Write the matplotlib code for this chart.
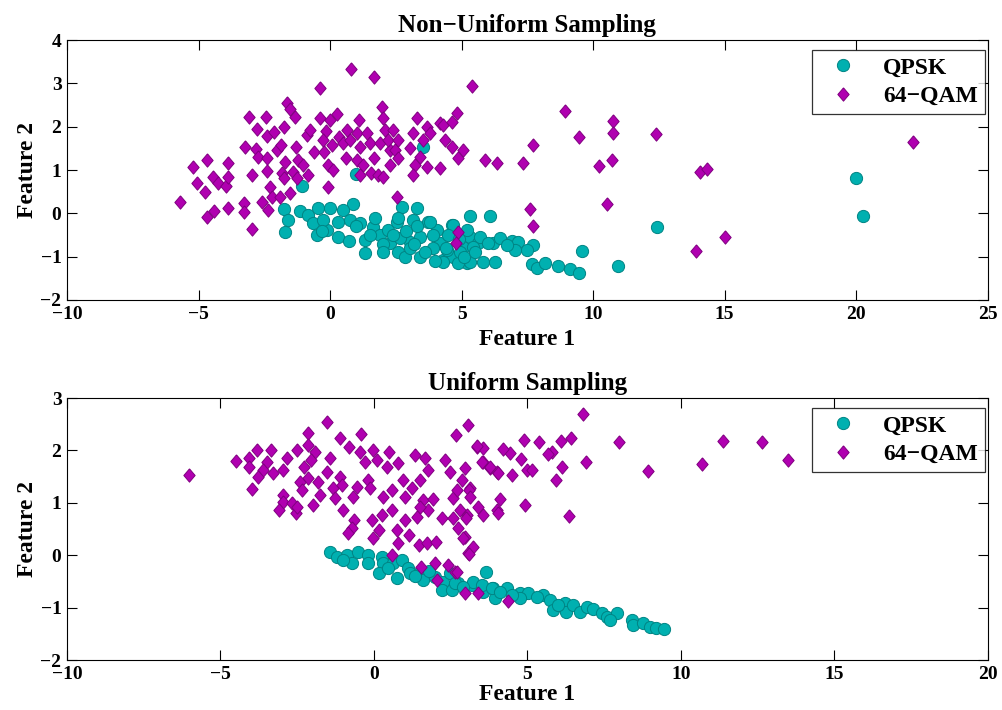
import matplotlib
matplotlib.use('Agg')
import matplotlib.pyplot as plt
import numpy as np

plt.rcParams['font.family'] = ['Liberation Serif', 'DejaVu Serif']
plt.rcParams['font.weight'] = 'bold'
plt.rcParams['axes.unicode_minus'] = True

# ── data ──────────────────────────────────────────────────────────────────────
# top panel: non-uniform sampling, (feature 1, feature 2)
top_qpsk = np.array([
    (3.53, 1.53), (-1.07, 0.63), (-1.75, 0.10), (-1.60, -0.15), (-1.71, -0.43),
    (-1.14, 0.05), (-0.84, -0.04), (-0.46, 0.12), (0.00, 0.12), (0.87, 0.22),
    (0.49, 0.08), (-0.65, -0.22), (-0.50, -0.50), (-0.12, -0.38), (-0.27, -0.15),
    (0.30, -0.55), (0.72, -0.64), (0.76, -0.15), (1.14, -0.22), (1.33, -0.62),
    (1.33, -0.92), (1.63, -0.32), (1.90, -0.50), (2.20, -0.38), (2.54, -0.20),
    (2.73, 0.15), (3.30, 0.12), (2.28, -0.68), (2.58, -0.89), (2.85, -1.01),
    (3.04, -0.66), (3.42, -1.01), (3.42, -0.55), (3.72, -0.20), (4.06, -0.38),
    (4.18, -0.68), (4.29, -1.08), (4.63, -0.27), (4.67, -1.01), (5.05, -0.78),
    (5.32, -0.06), (6.08, -0.06), (5.32, -0.55), (5.62, -0.68), (5.81, -1.12),
    (6.19, -0.68), (5.20, -1.15), (4.86, -1.15), (3.15, -0.15), (3.80, -0.20),
    (4.67, -0.27), (5.20, -0.38), (5.70, -0.55), (6.46, -0.57), (6.91, -0.64),
    (7.14, -0.66), (7.71, -0.73), (7.48, -0.85), (7.03, -0.85), (6.72, -0.73),
    (6.27, -1.12), (5.32, -1.12), (4.29, -1.12), (3.91, -0.80), (4.44, -0.85),
    (4.94, -0.89), (5.43, -0.78), (6.00, -0.68), (7.67, -1.17), (7.86, -1.26),
    (8.17, -1.15), (8.66, -1.22), (9.12, -1.28), (9.46, -1.38), (9.57, -0.87),
    (10.94, -1.22), (12.43, -0.32), (2.66, -0.57), (3.04, -0.80), (19.99, 0.82),
    (20.25, -0.06), (0.98, 0.91), (1.00, -0.30), (1.50, -0.50), (2.00, -0.70),
    (2.40, -0.50), (2.90, -0.40), (3.20, -0.70), (3.60, -0.90), (3.90, -0.50),
    (4.40, -0.80), (4.50, -0.50), (4.90, -0.60), (5.10, -1.00), (5.50, -0.90),
    (2.00, -0.90), (1.70, -0.10), (0.30, -0.20), (-0.30, -0.40), (4.00, -1.10),
    (3.30, -0.30), (2.60, -0.10),
])
top_qam = np.array([
    (-5.70, 0.26), (-5.21, 1.07), (-4.68, 1.23), (-5.06, 0.70), (-4.75, 0.49),
    (-4.45, 0.84), (-4.26, 0.70), (-3.96, 0.63), (-3.88, 1.16), (-3.88, 0.84),
    (-4.68, -0.08), (-4.41, 0.05), (-3.88, 0.12), (-3.27, 0.24), (-3.27, 0.03),
    (-2.97, -0.36), (-3.08, 2.22), (-2.44, 2.22), (-2.78, 1.94), (-2.40, 1.78),
    (-2.13, 1.88), (-1.75, 1.99), (-1.64, 2.55), (-1.52, 2.41), (-1.33, 2.22),
    (-3.23, 1.53), (-2.82, 1.48), (-2.74, 1.30), (-2.40, 1.28), (-2.02, 1.46),
    (-1.87, 1.58), (-1.71, 1.18), (-2.40, 0.98), (-2.97, 0.88), (-1.83, 0.93),
    (-1.75, 0.82), (-2.28, 0.61), (-2.59, 0.26), (-2.36, 0.08), (-2.21, 0.38),
    (-1.90, 0.38), (-1.52, 0.47), (-1.30, 1.53), (-1.22, 1.23), (-1.03, 1.12),
    (-1.41, 0.95), (-1.26, 0.82), (-0.84, 0.88), (-0.88, 1.81), (-0.76, 1.92),
    (-0.38, 2.89), (-0.38, 2.20), (0.00, 2.15), (0.26, 2.29), (-0.16, 1.90),
    (0.07, 1.58), (-0.27, 1.69), (-0.61, 1.42), (-0.23, 1.42), (-0.08, 1.12),
    (0.11, 1.00), (-0.08, 0.61), (0.79, 3.33), (1.67, 3.15), (1.10, 2.15),
    (0.64, 1.92), (0.34, 1.76), (0.49, 1.62), (0.76, 1.69), (1.02, 1.85),
    (1.40, 1.85), (1.14, 1.53), (1.52, 1.62), (0.60, 1.28), (1.02, 1.23),
    (1.25, 1.12), (1.67, 1.28), (1.55, 0.93), (1.14, 0.88), (1.82, 0.88),
    (2.01, 0.84), (1.97, 2.45), (2.01, 2.20), (1.90, 1.62), (2.09, 1.92),
    (2.28, 1.46), (2.20, 1.69), (2.47, 1.46), (2.58, 1.69), (2.39, 1.92),
    (2.28, 1.12), (2.58, 1.28), (3.15, 1.85), (3.30, 2.20), (3.04, 1.51),
    (3.23, 1.12), (3.15, 0.88), (3.42, 1.30), (3.68, 1.07), (3.68, 1.99),
    (3.80, 1.85), (3.53, 1.69), (4.18, 1.05), (4.18, 2.08), (4.29, 2.04),
    (4.63, 2.11), (4.82, 2.32), (5.39, 2.94), (4.37, 1.69), (4.63, 1.53),
    (5.05, 1.46), (4.86, 1.28), (5.89, 1.23), (6.34, 1.16), (2.54, 0.38),
    (4.86, -0.43), (4.78, -0.68), (8.93, 2.36), (10.75, 2.13), (10.75, 1.85),
    (9.46, 1.76), (12.39, 1.83), (7.71, 1.58), (7.33, 1.16), (10.22, 1.09),
    (10.71, 1.23), (14.06, 0.95), (14.33, 1.02), (10.52, 0.22), (7.60, 0.10),
    (7.71, -0.29), (13.91, -0.87), (22.15, 1.65), (15.01, -0.55),
])

# bottom panel: uniform sampling
bot_qpsk = np.array([
    (-1.43, 0.06), (-1.21, -0.03), (-0.88, 0.00), (-0.72, -0.15), (-0.52, 0.06),
    (-0.20, 0.00), (-0.20, -0.15), (0.26, -0.03), (0.29, -0.15), (0.16, -0.34),
    (0.62, -0.15), (0.75, -0.44), (0.91, -0.09), (1.11, -0.24), (1.17, -0.34),
    (1.50, -0.32), (1.60, -0.47), (1.99, -0.42), (2.25, -0.51), (2.21, -0.66),
    (2.54, -0.66), (2.74, -0.53), (3.19, -0.57), (3.65, -0.32), (3.55, -0.70),
    (3.88, -0.63), (3.94, -0.82), (2.48, -0.34), (2.64, -0.53), (3.22, -0.51),
    (3.52, -0.57), (3.84, -0.63), (4.33, -0.63), (4.76, -0.72), (5.02, -0.72),
    (4.76, -0.82), (5.51, -0.76), (5.73, -0.85), (5.83, -1.05), (6.22, -0.91),
    (6.25, -1.08), (6.48, -0.95), (6.71, -1.08), (6.94, -0.99), (7.13, -1.03),
    (7.43, -1.10), (7.59, -1.18), (7.92, -1.10), (7.69, -1.24), (8.40, -1.24),
    (8.44, -1.33), (8.76, -1.29), (8.99, -1.37), (9.19, -1.39), (9.45, -1.41),
    (-1.00, -0.10), (0.45, -0.25), (1.35, -0.40), (1.80, -0.30), (2.90, -0.60),
    (4.10, -0.70), (4.50, -0.75), (5.30, -0.80), (6.00, -0.95),
])
bot_qam = np.array([
    (-6.03, 1.53), (-4.50, 1.80), (-4.07, 1.85), (-4.07, 1.68), (-3.81, 2.01),
    (-3.36, 2.01), (-3.49, 1.78), (-3.62, 1.63), (-3.78, 1.49), (-3.29, 1.57),
    (-2.96, 1.63), (-2.83, 1.85), (-3.97, 1.26), (-2.96, 1.15), (-2.96, 1.02),
    (-3.09, 0.86), (-2.67, 1.00), (-2.54, 0.81), (-2.51, 0.92), (-1.99, 0.96),
    (-2.51, 2.01), (-2.15, 2.33), (-2.15, 2.10), (-1.92, 1.97), (-2.05, 1.82),
    (-2.28, 1.68), (-2.15, 1.47), (-2.41, 1.40), (-2.35, 1.24), (-1.82, 1.40),
    (-1.76, 1.15), (-1.53, 2.54), (-1.43, 1.85), (-1.53, 1.59), (-1.34, 1.28),
    (-1.27, 1.09), (-1.11, 1.49), (-1.04, 1.34), (-1.11, 2.24), (-0.81, 2.06),
    (-0.42, 2.31), (-0.46, 1.97), (-0.29, 1.78), (-0.68, 1.11), (-0.55, 1.30),
    (-0.20, 1.44), (-0.13, 1.28), (-1.01, 0.86), (-0.65, 0.67), (-0.72, 0.52),
    (-0.85, 0.42), (-0.07, 0.67), (0.16, 0.48), (-0.03, 0.33), (-0.03, 2.01),
    (0.10, 1.82), (0.49, 1.97), (0.42, 1.68), (0.29, 1.11), (0.59, 1.24),
    (0.59, 0.86), (0.26, 0.77), (0.78, 1.76), (0.94, 1.44), (1.01, 1.11),
    (1.24, 1.28), (1.34, 1.91), (1.66, 1.85), (1.76, 1.63), (1.50, 1.44),
    (1.60, 1.05), (1.76, 0.86), (1.50, 0.92), (1.40, 0.73), (1.01, 0.67),
    (0.75, 0.48), (1.14, 0.39), (0.78, 0.24), (1.47, 0.20), (1.73, 0.24),
    (1.92, 1.07), (2.02, 0.25), (2.21, 0.71), (2.31, 1.82), (2.48, 1.59),
    (2.96, 1.66), (2.87, 1.44), (2.67, 2.29), (3.06, 2.48), (2.57, 1.09),
    (2.70, 1.24), (2.80, 0.86), (3.03, 0.77), (2.57, 0.71), (2.74, 0.52),
    (2.96, 0.35), (3.13, 1.28), (3.39, 0.92), (3.55, 0.77), (3.06, 0.04),
    (3.22, 0.16), (3.36, 2.06), (3.55, 2.05), (3.55, 1.78), (3.78, 1.66),
    (4.01, 1.59), (4.01, 0.86), (0.59, 0.00), (1.53, -0.23), (1.99, -0.15),
    (2.05, -0.47), (2.41, -0.19), (2.64, -0.32), (2.96, -0.72), (3.39, -0.72),
    (6.81, 2.69), (7.98, 2.16), (11.37, 2.18), (10.68, 1.74), (8.93, 1.61),
    (6.35, 0.75), (6.91, 1.78), (6.12, 1.68), (5.93, 1.44), (6.42, 2.24),
    (6.09, 2.18), (5.80, 1.97), (5.67, 1.93), (5.37, 2.16), (4.89, 2.20),
    (4.79, 1.84), (4.98, 1.63), (5.15, 1.63), (4.50, 1.53), (4.43, 1.95),
    (4.20, 2.03), (4.04, 1.57), (3.78, 1.68), (3.52, 1.78), (3.36, 2.08),
    (4.10, 1.07), (4.04, 0.81), (4.92, 0.96), (3.09, 1.24), (3.13, 1.11),
    (3.00, 0.71), (2.90, 0.33), (3.09, 0.02), (2.70, -0.32), (4.36, -0.87),
    (12.64, 2.16), (13.49, 1.82),
])

panels = [
    ("Non\u2212Uniform Sampling", top_qpsk, top_qam, (-10, 25), (-2, 4), 5),
    ("Uniform Sampling", bot_qpsk, bot_qam, (-10, 20), (-2, 3), 1),
]

# MATLAB-like diamond, a bit taller than wide
diamond = [(0, 1), (0.85, 0), (0, -1), (-0.85, 0), (0, 1)]

fig = plt.figure(figsize=(10.03, 7.10), dpi=100)
ax_rects = [[0.0668, 0.5775, 0.918, 0.366], [0.0668, 0.0704, 0.918, 0.369]]

for rect, (title, qpsk, qam, xlim, ylim, xpad) in zip(ax_rects, panels):
    ax = fig.add_axes(rect)
    ax.plot(qpsk[:, 0], qpsk[:, 1], 'o', ms=8.8, mfc='#00b0b0', mec='#008484',
            mew=0.7, label='QPSK')
    ax.plot(qam[:, 0], qam[:, 1], ls='none', marker=diamond, ms=9.6,
            mfc='#b000b0', mec='#800080', mew=0.7, label='64\u2212QAM')
    ax.set_xlim(*xlim)
    ax.set_ylim(*ylim)
    ax.tick_params(direction='in', top=True, right=True, length=7,
                   labelsize=14, width=0.8, pad=4)
    for t in ax.get_xticklabels() + ax.get_yticklabels():
        t.set_fontweight('bold')
    ax.set_xlabel("Feature 1", fontsize=17, fontweight='bold', labelpad=xpad)
    ax.set_ylabel("Feature 2", fontsize=17, fontweight='bold', labelpad=2)
    ax.set_title(title, fontsize=18, fontweight='bold', pad=6)
    leg = ax.legend(loc='upper right', bbox_to_anchor=(1 - 3 / 921, 1 - 10 / 260),
                    borderaxespad=0, fontsize=17, frameon=True, fancybox=False,
                    edgecolor='black', handletextpad=0.7, borderpad=0.3,
                    labelspacing=0.3, handlelength=2.0)
    leg.get_frame().set_linewidth(0.9)
    for t in leg.get_texts():
        t.set_fontweight('bold')

fig.savefig("out.png", dpi=100)
